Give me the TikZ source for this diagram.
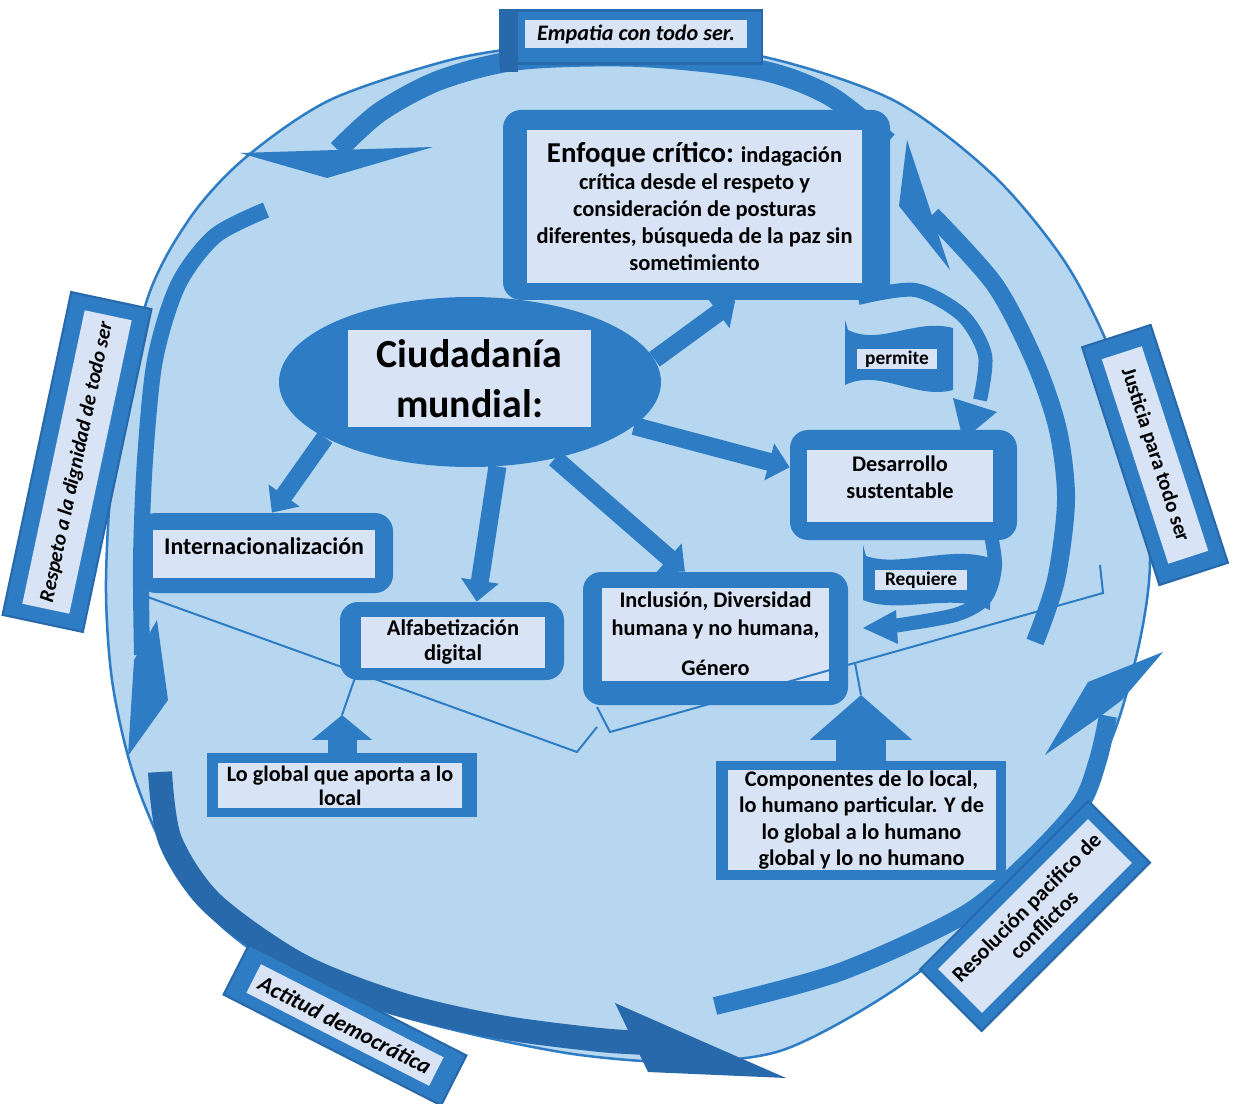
\documentclass[tikz,border=0pt]{standalone}
\usepackage{fontspec}
\setmainfont{Carlito}
\usetikzlibrary{arrows.meta,shapes.geometric,calc}
\definecolor{bgc}{HTML}{B7D6F0}
\definecolor{mb}{HTML}{2E7DC4}
\definecolor{db}{HTML}{2869AB}
\definecolor{inf}{HTML}{D8E4F5}
\newcommand\pxu{0.02cm}
\newcommand\FSz[2]{\fontsize{#1}{#2}\selectfont}
\begin{document}
\begin{tikzpicture}[x=0.02cm,y=-0.02cm,
  boxout/.style={fill=mb, rounded corners=18*\pxu, inner sep=0pt},
  sqout/.style={fill=mb, inner sep=0pt},
  boxin/.style={fill=inf, inner sep=0pt, text=black, align=center},
  txt/.style={inner sep=0pt, text=black, align=center},
  bandw/.style={mb, line width=#1*\pxu},
  conn/.style={draw=mb, line width=18*\pxu, -{Triangle[width=21pt,length=12pt]}},
  brk/.style={draw=mb, line width=2*\pxu},
  bout/.style={fill=mb, draw=db, line width=1.2pt, inner sep=0pt},
  bin/.style={fill=inf, inner sep=0pt, text=black, align=center},
]
\useasboundingbox (0,0) rectangle (1233,1104);
\fill[white] (0,0) rectangle (1233,1104);

% big circle
\path[fill=bgc, draw=mb, line width=2.5*\pxu] plot[smooth cycle] coordinates {(630,44) (760,56) (893,100) (993,175) (1065,262) (1112,355) (1140,455) (1150,560) (1140,640) (1115,730) (1078,805) (1002,902) (897,988) (783,1050) (680,1062) (580,1055) (480,1036) (380,1010) (290,975) (215,920) (165,850) (132,770) (112,680) (106,580) (115,450) (147,300) (190,218) (245,158) (330,100) (450,60) (540,46)};

% peripheral curved arrows
\draw[bandw=20] plot[smooth] coordinates {(888,142) (830,96) (760,70) (640,57) (520,60) (440,80) (380,112) (338,150)};
\fill[mb] (240,153) -- (433,147) -- (327,178) -- cycle;

\draw[bandw=18] plot[smooth] coordinates {(1035,642) (1056,580) (1066,500) (1058,430) (1035,362) (995,285) (932,215)};
\fill[mb] (907,140) -- (899,206) -- (950,270) -- cycle;

\draw[bandw=16] plot[smooth] coordinates {(266,210) (215,236) (178,285) (155,360) (145,460) (141,560) (142,655)};
\fill[mb] (157,620) -- (168,700) -- (128,756) -- (134,660) -- cycle;

\draw[db, line width=24*\pxu] plot[smooth] coordinates {(160,772) (170,840) (212,903) (300,965) (400,1004) (500,1027) (600,1040) (650,1043)};
\fill[db] (615,1003) -- (786,1078) -- (648,1072) -- cycle;

\draw[bandw=18] plot[smooth] coordinates {(715,1006) (840,972) (964,915) (1030,860) (1080,805) (1098,760) (1108,716)};
\fill[mb] (1163,652) -- (1088,682) -- (1045,755) -- (1098,718) -- (1122,700) -- cycle;

% permite / requiere arrows
\draw[bandw=14] plot[smooth] coordinates {(858,298) (915,290) (962,315) (985,355) (980,400)};
\fill[mb] (953,398) -- (997,412) -- (963,440) -- cycle;
\draw[bandw=14] plot[smooth] coordinates {(988,520) (995,565) (985,598) (955,615) (893,626)};
\fill[mb] (863,628) -- (896,610) -- (898,644) -- cycle;

% flags
\fill[mb] (845,320) -- (845,385) .. controls (880,368) and (915,400) .. (953,390) -- (953,328) .. controls (915,318) and (880,346) .. (848,330) -- cycle;
\node[bin, minimum width=80*\pxu, minimum height=20*\pxu, font=\bfseries\FSz{11}{12}] (perm) at (897,359) {permite};
\fill[mb] (863,545) -- (863,600) .. controls (900,615) and (950,592) .. (990,610) -- (990,558) .. controls (950,545) and (900,568) .. (866,556) -- cycle;
\node[bin, minimum width=92*\pxu, minimum height=20*\pxu, font=\bfseries\FSz{11}{12}] (req) at (921,580) {Requiere};

% boxes
\node[boxout, minimum width=387*\pxu, minimum height=190*\pxu] (enf) at (696.5,205) {};
\node[boxin, minimum width=335*\pxu, minimum height=153*\pxu, font=\bfseries\FSz{12.8}{15.3}] (enfT) at (694.5,206.5) {{\FSz{16.4}{15.3}Enfoque crítico:} indagación\\crítica desde el respeto y\\consideración de posturas\\diferentes, búsqueda de la paz sin\\sometimiento};

\node[ellipse, fill=mb, minimum width=382*\pxu, minimum height=170*\pxu, inner sep=0pt] (ciud) at (470,382) {};
\node[boxin, minimum width=243*\pxu, minimum height=97*\pxu, font=\bfseries\FSz{22.7}{28.4}] (ciudT) at (469.5,378.5) {Ciudadanía\\mundial:};

\node[boxout, minimum width=255*\pxu, minimum height=80*\pxu] (intl) at (265.5,553) {};
\node[boxin, minimum width=222*\pxu, minimum height=48*\pxu] (intlB) at (264,554) {};
\node[txt, font=\bfseries\FSz{13.6}{15}] (intlT) at (264,546) {Internacionalización};

\node[boxout, minimum width=224*\pxu, minimum height=78*\pxu] (alfa) at (452,641) {};
\node[boxin, minimum width=184*\pxu, minimum height=51*\pxu, font=\bfseries\FSz{12.8}{14.7}] (alfaT) at (453,642) {Alfabetización\\digital};

\node[boxout, minimum width=265*\pxu, minimum height=133*\pxu] (incl) at (715.5,638.5) {};
\node[boxin, minimum width=227*\pxu, minimum height=93*\pxu, font=\bfseries\FSz{12.7}{15.9}] (inclT) at (715.5,634) {Inclusión, Diversidad\\humana y no humana,\\[6.8pt]Género};

\node[boxout, minimum width=227*\pxu, minimum height=110*\pxu] (desa) at (903.5,485) {};
\node[boxin, minimum width=186*\pxu, minimum height=72*\pxu] (desaB) at (900,486) {};
\node[txt, font=\bfseries\FSz{12.7}{15.3}] (desaT) at (900,477) {Desarrollo\\sustentable};

\node[sqout, minimum width=270*\pxu, minimum height=64*\pxu] (glob) at (342,785) {};
\node[boxin, minimum width=244*\pxu, minimum height=45*\pxu, font=\bfseries\FSz{12.6}{13.6}] (globT) at (340,785.5) {Lo global que aporta a lo\\local};

\node[sqout, minimum width=290*\pxu, minimum height=119*\pxu] (comp) at (861,820.5) {};
\node[boxin, minimum width=268*\pxu, minimum height=100*\pxu, font=\bfseries\FSz{12.7}{14.9}] (compT) at (861.5,820) {Componentes de lo local,\\lo humano particular. Y de\\lo global a lo humano\\global y lo no humano};

% connectors from the ellipse
\draw[conn] (ciud.7) -- ($(enf.south west)!0.6!(enf.south east)$);
\draw[conn] (ciud.-15) -- ($(desa.north west)!0.34!(desa.south west)$);
\draw[conn] (ciud.-42) -- ($(incl.north west)!0.385!(incl.north east)$);
\draw[conn] (ciud.-72) -- ($(alfa.north west)!0.61!(alfa.north east)$);
\draw[conn] (ciud.201) -- ($(intl.north west)!0.525!(intl.north east)$);

% up block arrows
\coordinate (gtip) at (342,715);
\coordinate (ctip) at (861,695);
\draw[draw=mb, line width=29*\pxu, -{Triangle[width=33.5pt,length=14.2pt]}] (glob.north -| gtip) -- (gtip);
\draw[draw=mb, line width=50*\pxu, -{Triangle[width=56.7pt,length=25.5pt]}] (comp.north -| ctip) -- (ctip);

% brackets
\coordinate (lb1) at (577,752);
\coordinate (lb2) at (597,727);
\coordinate (lnotch) at (357,672);
\coordinate (rb1) at (597,707);
\coordinate (rb2) at (610,732);
\coordinate (rb3) at (1103,593);
\coordinate (rb4) at (1100,565);
\coordinate (rnotch) at (855,663);
\draw[brk] (intl.south west) -- (lb1) -- (lb2);
\draw[brk] (lnotch) -- (gtip);
\draw[brk] (rb1) -- (rb2) -- (rb3) -- (rb4);
\draw[brk] (rnotch) -- (ctip);

% banners
\node[bout, minimum width=262*\pxu, minimum height=53*\pxu] (empO) at (631,37) {};
\fill[db] (500,12) rectangle (518,72);
\node[bin, minimum width=222*\pxu, minimum height=28*\pxu, font=\bfseries\itshape\FSz{12.6}{14}] (emp) at (636,34) {Empatia con todo ser.};

\node[bout, rotate=78, minimum width=330*\pxu, minimum height=82*\pxu] (respO) at (77,462) {};
\node[bin, rotate=78, minimum width=300*\pxu, minimum height=48*\pxu, font=\bfseries\itshape\FSz{11.8}{13}] (resp) at (77,462) {Respeto a la dignidad de todo ser};

\node[bout, rotate=-72, minimum width=250*\pxu, minimum height=72*\pxu] (jusO) at (1155,455) {};
\node[bin, rotate=-72, minimum width=215*\pxu, minimum height=42*\pxu, font=\bfseries\FSz{11.8}{13}] (jus) at (1155,455) {Justicia para todo ser};

\node[bout, rotate=-27, minimum width=244*\pxu, minimum height=56*\pxu] (actO) at (345,1025) {};
\node[bin, rotate=-27, minimum width=205*\pxu, minimum height=32*\pxu, font=\bfseries\itshape\FSz{12.9}{14}] (act) at (345,1025) {Actitud democrática};

\node[bout, rotate=45, minimum width=238*\pxu, minimum height=87*\pxu] (resO) at (1035,916) {};
\node[bin, rotate=45, minimum width=212*\pxu, minimum height=62*\pxu, font=\bfseries\FSz{12.4}{14}] (res) at (1035,916) {Resolución pacifico de\\conflictos};
\end{tikzpicture}
\end{document}
